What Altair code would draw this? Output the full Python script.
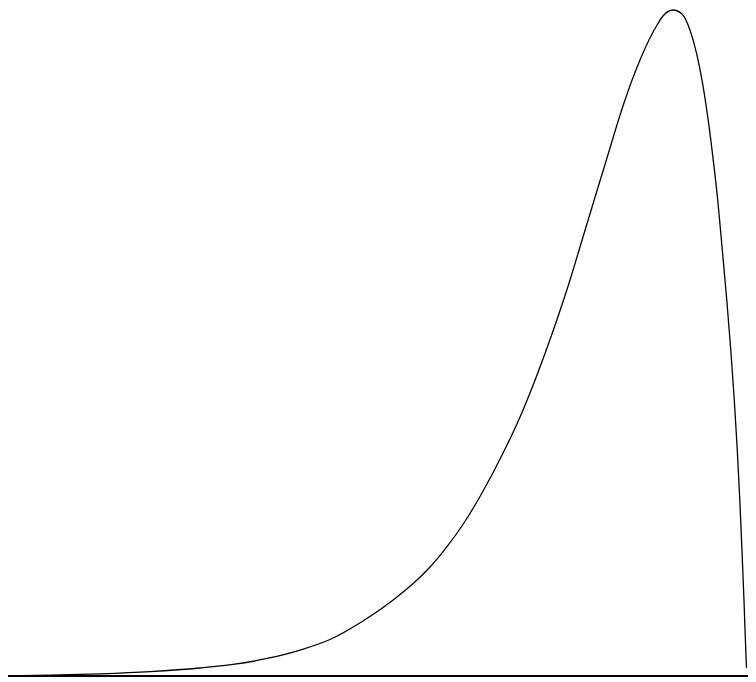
import altair as alt
import pandas as pd

# curve readings (x in % of the horizontal span, y in % of the peak height)
xs = [0, 6.31, 13.02, 19.73, 26.44, 30.87, 35.44, 39.87, 43.89, 48.32, 52.89,
      55.57, 57.32, 59.60, 61.74, 64.03, 67.11, 69.40, 71.68, 73.83, 76.11,
      77.85, 79.19, 81.07, 83.22, 85.50, 87.79, 88.59, 89.93, 91.14, 92.21,
      93.09, 93.89, 94.63, 95.27, 95.95, 96.55, 97.15, 97.69, 98.16, 98.56,
      98.90, 99.19, 99.46, 99.70, 99.80]
ys = [0, 0.12, 0.33, 0.66, 1.20, 1.73, 2.63, 3.90, 5.48, 8.26, 11.86,
      14.41, 16.37, 19.43, 22.75, 26.95, 33.44, 38.89, 45.20, 51.80, 59.46,
      65.92, 70.87, 77.78, 85.59, 92.49, 97.75, 99.10, 100.0, 99.40, 97.00,
      93.54, 89.07, 83.69, 78.08, 71.32, 63.96, 56.46, 48.95, 41.44, 33.93,
      26.43, 18.92, 11.41, 3.90, 1.20]

df = pd.DataFrame({"x": xs, "y": ys})
base_df = pd.DataFrame({"x": [0], "x2": [100], "y": [0]})

xscale = alt.Scale(domain=[0, 100], nice=False, zero=False)
yscale = alt.Scale(domain=[0, 100], nice=False)

curve = alt.Chart(df).mark_line(color="black", strokeWidth=1.3, interpolate="monotone").encode(
    x=alt.X("x:Q", scale=xscale, axis=None),
    y=alt.Y("y:Q", scale=yscale, axis=None),
)

baseline = alt.Chart(base_df).mark_rule(color="black", strokeWidth=2.2).encode(
    x=alt.X("x:Q", scale=xscale, axis=None),
    x2="x2:Q",
    y=alt.Y("y:Q", scale=yscale, axis=None),
)

chart = (baseline + curve).properties(
    width=745,
    height=666,
    padding={"left": -5, "top": 2, "right": 0, "bottom": 4},
    autosize=alt.AutoSizeParams(type="none"),
).configure_view(stroke=None)

chart.save("out.html", embed_options={"renderer": "svg", "actions": False})
